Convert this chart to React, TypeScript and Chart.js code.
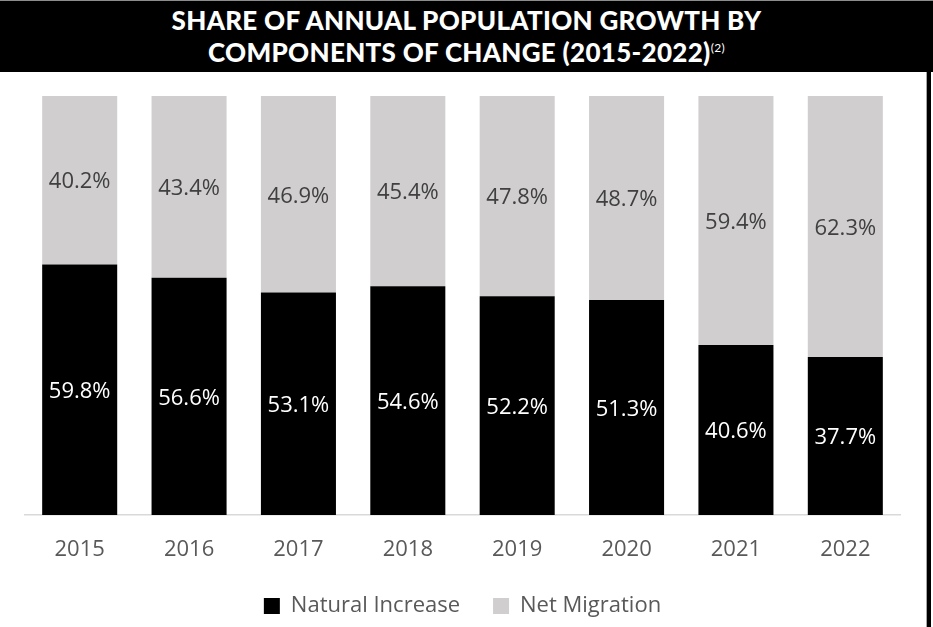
import React, { useEffect, useRef } from "react";
import { Chart, registerables } from "chart.js";

Chart.register(...registerables);

const years = ["2015", "2016", "2017", "2018", "2019", "2020", "2021", "2022"];
const naturalIncrease = [59.8, 56.6, 53.1, 54.6, 52.2, 51.3, 40.6, 37.7];
const netMigration = [40.2, 43.4, 46.9, 45.4, 47.8, 48.7, 59.4, 62.3];
const seriesNames = ["Natural Increase", "Net Migration"];
const seriesColors = ["#000000", "#D0CECE"];
const labelColors = ["#FFFFFF", "#404040"];

const FONT = "'Open Sans', 'Noto Sans', sans-serif";

const valueLabels = {
  id: "valueLabels",
  afterDatasetsDraw(chart: any) {
    const ctx = chart.ctx;
    ctx.save();
    ctx.font = `22px ${FONT}`;
    ctx.textAlign = "center";
    ctx.textBaseline = "middle";
    chart.data.datasets.forEach((ds: any, di: number) => {
      const meta = chart.getDatasetMeta(di);
      meta.data.forEach((el: any, i: number) => {
        const p = el.getProps(["x", "y", "base"], true);
        ctx.fillStyle = labelColors[di];
        ctx.fillText(ds.data[i].toFixed(1) + "%", p.x, (p.y + p.base) / 2 + 2);
      });
    });
    ctx.restore();
  },
};

export default function App() {
  const ref = useRef<HTMLCanvasElement>(null);
  useEffect(() => {
    document.body.style.margin = "0";
    const chart = new Chart(ref.current!, {
      type: "bar",
      data: {
        labels: years,
        datasets: [
          { label: seriesNames[0], data: naturalIncrease, backgroundColor: seriesColors[0], barPercentage: 0.686, categoryPercentage: 1 },
          { label: seriesNames[1], data: netMigration, backgroundColor: seriesColors[1], barPercentage: 0.686, categoryPercentage: 1 },
        ],
      },
      options: {
        animation: false,
        responsive: false,
        maintainAspectRatio: false,
        layout: { padding: { top: 24, left: 25, right: 25, bottom: 0 } },
        plugins: {
          legend: {
            position: "bottom",
            labels: {
              boxWidth: 16,
              boxHeight: 16,
              padding: 33,
              color: "#595959",
              font: { family: FONT, size: 22 },
            },
          },
          tooltip: { enabled: false },
          title: { display: false },
        },
        scales: {
          x: {
            stacked: true,
            grid: { display: false, drawTicks: false },
            border: { display: true, color: "#D9D9D9", width: 1.5 },
            ticks: { color: "#595959", font: { family: FONT, size: 22 }, padding: 22 },
            afterFit: (axis: any) => {
              axis.height = 47;
            },
          },
          y: {
            stacked: true,
            min: 0,
            max: 100,
            display: false,
          },
        },
      },
      plugins: [valueLabels],
    });
    return () => chart.destroy();
  }, []);

  return (
    <div style={{ position: "absolute", left: 0, top: 0, width: 933, height: 627, background: "#fff", overflow: "hidden" }}>
      <div
        style={{
          position: "absolute",
          left: 0,
          top: 0,
          width: 933,
          height: 72,
          background: "#000",
          borderTop: "1px solid #8c8c8c",
          color: "#fff",
          textAlign: "center",
          fontFamily: "Lato, sans-serif",
          fontWeight: 900,
          fontSize: 26,
          lineHeight: "32px",
          paddingTop: 3,
          boxSizing: "border-box",
          letterSpacing: 0.3,
        }}
      >
        <div>SHARE OF ANNUAL POPULATION GROWTH BY</div>
        <div>
          COMPONENTS OF CHANGE (2015-2022)
          <span style={{ fontSize: 12, fontWeight: 400, verticalAlign: "top", lineHeight: "24px" }}>(2)</span>
        </div>
      </div>
      <div style={{ position: "absolute", left: 926, top: 72, width: 1, height: 555, background: "#A6A6A6" }} />
      <div style={{ position: "absolute", left: 927, top: 72, width: 4, height: 555, background: "#000" }} />
      <canvas ref={ref} width={925} height={555} style={{ position: "absolute", left: 0, top: 72, width: 925, height: 555 }} />
    </div>
  );
}
